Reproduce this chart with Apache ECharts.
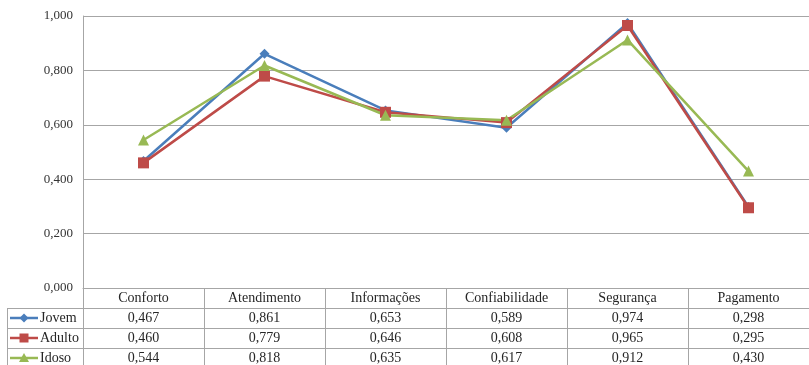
<!DOCTYPE html>
<html>
<head>
<meta charset="utf-8">
<script src="https://cdn.jsdelivr.net/npm/echarts@6/dist/echarts.min.js"></script>
<style>
  html, body { margin: 0; padding: 0; background: #fff; }
  #chart { width: 809px; height: 365px; }
</style>
</head>
<body>
<div id="chart"></div>
<script>
// Categories and index values per age group
const categories = ['Conforto', 'Atendimento', 'Informações', 'Confiabilidade', 'Segurança', 'Pagamento'];
const jovem  = [0.467, 0.861, 0.653, 0.589, 0.974, 0.298];
const adulto = [0.460, 0.779, 0.646, 0.608, 0.965, 0.295];
const idoso  = [0.544, 0.818, 0.635, 0.617, 0.912, 0.430];
const yTicks = [0, 0.2, 0.4, 0.6, 0.8, 1.0];

const seriesDefs = [
  { name: 'Jovem',  data: jovem,  color: '#4a7ebb', symbol: 'diamond',  size: 10 },
  { name: 'Adulto', data: adulto, color: '#be4b48', symbol: 'rect',     size: 11 },
  { name: 'Idoso',  data: idoso,  color: '#98b954', symbol: 'triangle', size: 11 }
];

// Pick the first serif face that is actually installed
function pickSerif() {
  const cands = ['Liberation Serif', 'Times New Roman', 'Tinos', 'DejaVu Serif', 'Noto Serif', 'FreeSerif'];
  const ctx = document.createElement('canvas').getContext('2d');
  const probe = 'Conforto 0,467 Wwmli';
  ctx.font = '40px monospace';
  const mono = ctx.measureText(probe).width;
  ctx.font = '40px sans-serif';
  const sans = ctx.measureText(probe).width;
  for (const f of cands) {
    ctx.font = '40px "' + f + '", monospace';
    const w1 = ctx.measureText(probe).width;
    ctx.font = '40px "' + f + '", sans-serif';
    const w2 = ctx.measureText(probe).width;
    if (w1 !== mono || w2 !== sans) return f;
  }
  return 'serif';
}
const FONT = pickSerif();
const TEXT = '#262626';
const fmt = v => v.toFixed(3).replace('.', ',');

const chart = echarts.init(document.getElementById('chart'), null, { renderer: 'canvas' });

const option = {
  animation: false,
  backgroundColor: '#ffffff',
  grid: { left: 83, right: -8, top: 16, bottom: 77, containLabel: false },
  xAxis: {
    type: 'category',
    data: categories,
    boundaryGap: true,
    axisLine: { show: true, lineStyle: { color: '#a6a6a6', width: 1 } },
    axisTick: { show: false },
    axisLabel: { show: false },
    splitLine: { show: false }
  },
  yAxis: {
    type: 'value',
    min: yTicks[0],
    max: yTicks[yTicks.length - 1],
    interval: 0.2,
    axisLine: { show: true, lineStyle: { color: '#a6a6a6', width: 1 } },
    axisTick: { show: false },
    axisLabel: {
      margin: 10,
      color: '#333',
      fontFamily: FONT,
      fontSize: 13,
      formatter: v => fmt(v)
    },
    splitLine: { show: true, lineStyle: { color: '#a6a6a6', width: 1 } }
  },
  series: seriesDefs.map(s => ({
    name: s.name,
    type: 'line',
    data: s.data,
    symbol: s.symbol,
    symbolSize: s.size,
    showSymbol: true,
    lineStyle: { color: s.color, width: 2.5 },
    itemStyle: { color: s.color },
    z: 3
  }))
};

chart.setOption(option);

function textEl(x, y, text, align) {
  return { type: 'text', x: x, y: y, silent: true,
    style: { text: text, fill: TEXT, fontFamily: FONT, fontSize: 14,
      align: align, verticalAlign: 'middle' } };
}

// Data table under the plot, aligned with the category axis
function buildTable() {
  const g = [];
  const lineColor = '#a6a6a6';
  const axisY = chart.convertToPixel({ yAxisIndex: 0 }, 0);
  const x0 = chart.convertToPixel({ xAxisIndex: 0 }, 0);
  const x1 = chart.convertToPixel({ xAxisIndex: 0 }, 1);
  const colW = x1 - x0;
  const plotLeft = x0 - colW / 2;
  const plotRight = plotLeft + colW * categories.length;
  const rowH = 20;
  const tableLeft = 7;
  const rows = 1 + seriesDefs.length;
  const bottom = axisY + rowH * rows;

  for (let r = 1; r <= rows; r++) {
    const y = Math.round(axisY + rowH * r) + 0.5;
    g.push({ type: 'line', shape: { x1: tableLeft, y1: y, x2: plotRight, y2: y },
      style: { stroke: lineColor, lineWidth: 1 }, silent: true });
  }
  for (let c = 1; c < categories.length; c++) {
    const x = Math.round(plotLeft + colW * c) + 0.5;
    g.push({ type: 'line', shape: { x1: x, y1: axisY, x2: x, y2: bottom },
      style: { stroke: lineColor, lineWidth: 1 }, silent: true });
  }
  const xl = Math.round(plotLeft) + 0.5;
  g.push({ type: 'line', shape: { x1: xl, y1: axisY, x2: xl, y2: bottom },
    style: { stroke: lineColor, lineWidth: 1 }, silent: true });
  g.push({ type: 'line', shape: { x1: tableLeft + 0.5, y1: axisY + rowH, x2: tableLeft + 0.5, y2: bottom },
    style: { stroke: lineColor, lineWidth: 1 }, silent: true });

  categories.forEach((name, i) => {
    g.push(textEl(chart.convertToPixel({ xAxisIndex: 0 }, i), axisY + rowH / 2, name, 'center'));
  });

  seriesDefs.forEach((s, r) => {
    const cy = axisY + rowH * (r + 1.5);
    g.push({ type: 'line', shape: { x1: 10, y1: cy, x2: 38, y2: cy },
      style: { stroke: s.color, lineWidth: 2.5 }, silent: true });
    let marker;
    if (s.symbol === 'diamond') {
      marker = { type: 'polygon', shape: { points: [[24, cy - 4.5], [28.5, cy], [24, cy + 4.5], [19.5, cy]] } };
    } else if (s.symbol === 'rect') {
      marker = { type: 'rect', shape: { x: 19.5, y: cy - 4.5, width: 9, height: 9 } };
    } else {
      marker = { type: 'polygon', shape: { points: [[24, cy - 5], [29, cy + 4], [19, cy + 4]] } };
    }
    marker.style = { fill: s.color };
    marker.silent = true;
    g.push(marker);
    g.push(textEl(40, cy, s.name, 'left'));
    s.data.forEach((v, i) => {
      g.push(textEl(chart.convertToPixel({ xAxisIndex: 0 }, i), cy, fmt(v), 'center'));
    });
  });

  chart.setOption({ graphic: { elements: g } });
}

buildTable();
</script>
</body>
</html>
